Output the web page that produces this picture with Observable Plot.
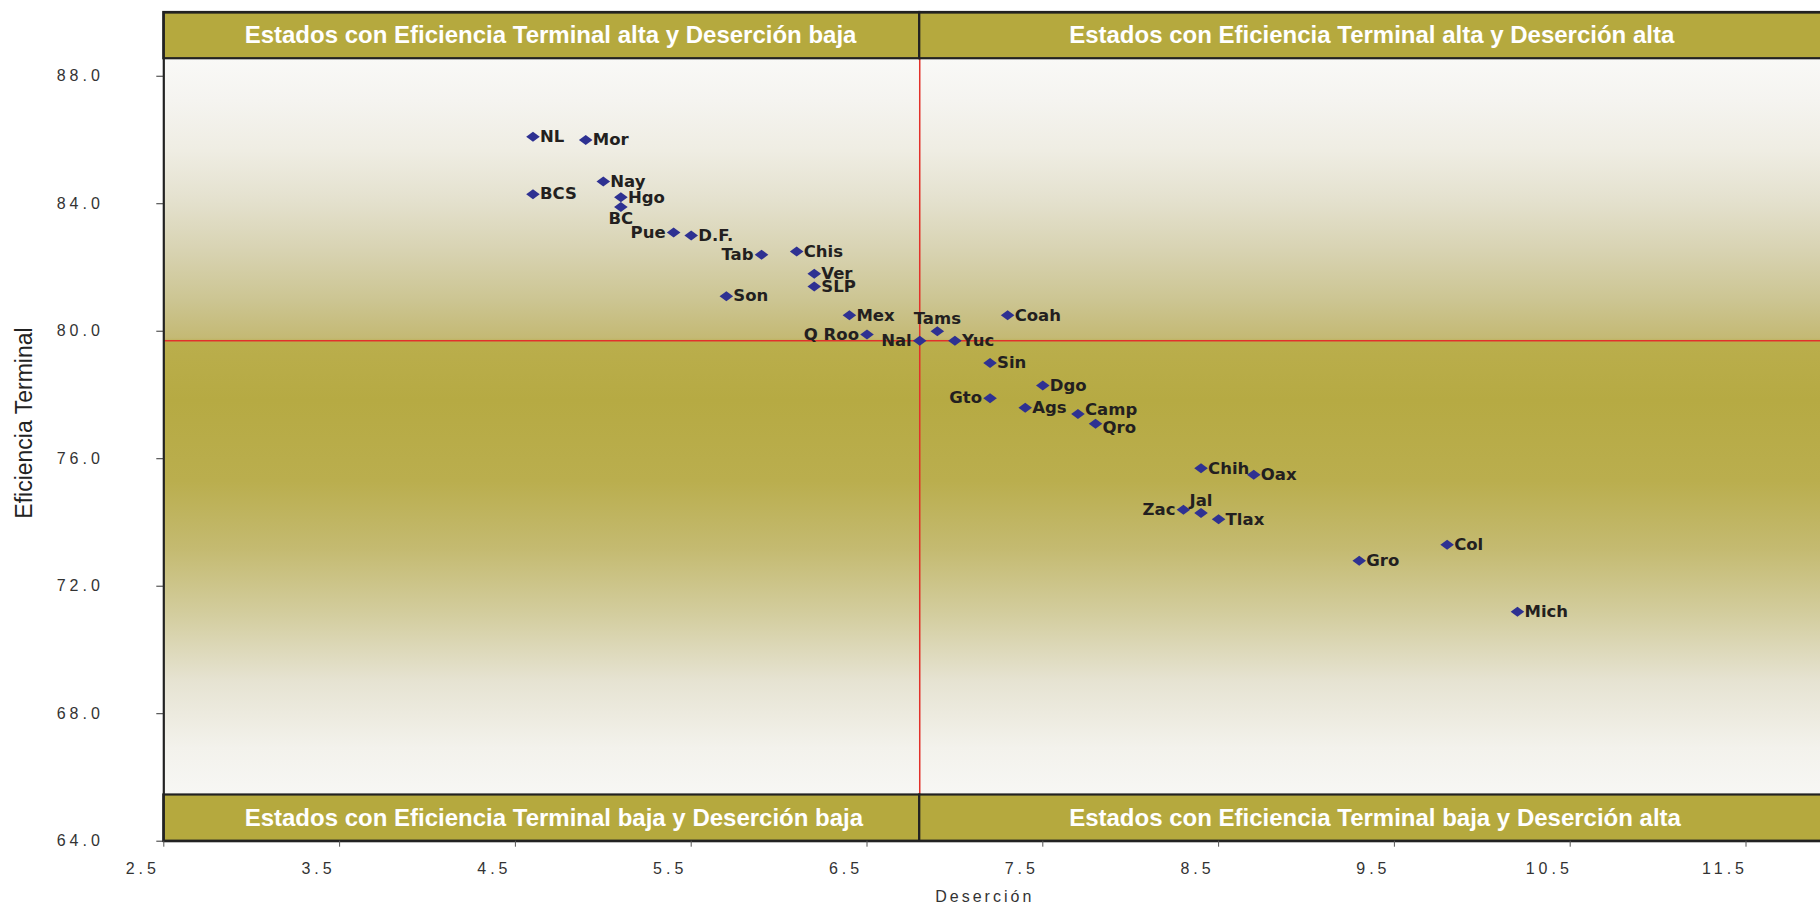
<!DOCTYPE html>
<html>
<head>
<meta charset="utf-8">
<script src="https://cdn.jsdelivr.net/npm/d3@7"></script>
<script src="https://cdn.jsdelivr.net/npm/@observablehq/plot@0.6"></script>
<style>
  html, body { margin: 0; padding: 0; background: #ffffff; overflow: hidden; width: 1820px; height: 909px; }
  #chart svg { display: block; max-width: none !important; }
</style>
</head>
<body>
<div id="chart"></div>
<script>
// ---------------- data ----------------
const states = ["NL","Mor","BCS","Nay","Hgo","BC","Pue","D.F.","Tab","Chis","Ver","SLP","Son","Mex","Q Roo","Tams","Nal","Yuc","Coah","Sin","Dgo","Gto","Ags","Camp","Qro","Chih","Oax","Zac","Jal","Tlax","Gro","Col","Mich"];
const desercion = [4.6,4.9,4.6,5.0,5.1,5.1,5.4,5.5,5.9,6.1,6.2,6.2,5.7,6.4,6.5,6.9,6.8,7.0,7.3,7.2,7.5,7.2,7.4,7.7,7.8,8.4,8.7,8.3,8.4,8.5,9.3,9.8,10.2];
const eficiencia = [86.1,86.0,84.3,84.7,84.2,83.9,83.1,83.0,82.4,82.5,81.8,81.4,81.1,80.5,79.9,80.0,79.7,79.7,80.5,79.0,78.3,77.9,77.6,77.4,77.1,75.7,75.5,74.4,74.3,74.1,72.8,73.3,71.2];
const xTicks = [2.5,3.5,4.5,5.5,6.5,7.5,8.5,9.5,10.5,11.5,12.5];
const yTicks = [64,68,72,76,80,84,88];
const quadrantTitles = [
  "Estados con Eficiencia Terminal alta y Deserción baja",
  "Estados con Eficiencia Terminal alta y Deserción alta",
  "Estados con Eficiencia Terminal baja y Deserción baja",
  "Estados con Eficiencia Terminal baja y Deserción alta"
];
const xTitle = "Deserción";
const yTitle = "Eficiencia Terminal";
const nationalName = "Nal";

// ---------------- layout / style (not data) ----------------
const xDomain = [2.5, 12.5];
const yDomain = [64, 90];
const bandDepth = 1.45;               // height of the quadrant title bands, in y units
const titleStartOffset = [0.46, 0.85]; // left / right title start, from band start (x units)
const xTitleAt = 7.17;
const yTitleAt = 77.12;
const labelPlacement = {
  "Pue":"left","Tab":"left","Q Roo":"left","Nal":"left","Gto":"left","Zac":"left",
  "Tams":"above","Jal":"above","BC":"below","Camp":"rightUp","Qro":"rightDown"
};
const olive = "#B5A93E";
const markerColor = "#2E3192";
const redLine = "#E2312A";
const labelFont = "'DejaVu Sans', Verdana, sans-serif";
const axisFont = "'Liberation Sans', Arial, sans-serif";

// ---------------- derived tables ----------------
const points = states.map((s, i) => ({name: s, x: desercion[i], y: eficiencia[i], place: labelPlacement[s] || "right"}));
const nal = points.find(d => d.name === nationalName);
const innerTop = yDomain[1] - bandDepth, innerBottom = yDomain[0] + bandDepth;
const background = [{x1: xDomain[0], x2: xDomain[1], y1: innerBottom, y2: innerTop}];
const bands = [
  {x1: xDomain[0], x2: nal.x, y1: innerTop, y2: yDomain[1], title: quadrantTitles[0], tx: xDomain[0] + titleStartOffset[0], ty: (innerTop + yDomain[1]) / 2},
  {x1: nal.x, x2: xDomain[1], y1: innerTop, y2: yDomain[1], title: quadrantTitles[1], tx: nal.x + titleStartOffset[1], ty: (innerTop + yDomain[1]) / 2},
  {x1: xDomain[0], x2: nal.x, y1: yDomain[0], y2: innerBottom, title: quadrantTitles[2], tx: xDomain[0] + titleStartOffset[0], ty: (yDomain[0] + innerBottom) / 2},
  {x1: nal.x, x2: xDomain[1], y1: yDomain[0], y2: innerBottom, title: quadrantTitles[3], tx: nal.x + titleStartOffset[1], ty: (yDomain[0] + innerBottom) / 2}
];

const wideDiamond = {
  draw(ctx) {
    const w = 6.8, h = 5.0;
    ctx.moveTo(0, -h); ctx.lineTo(w, 0); ctx.lineTo(0, h); ctx.lineTo(-w, 0); ctx.closePath();
  }
};

const labelStyle = {x: "x", y: "y", text: "name", fontFamily: labelFont, fontWeight: "bold", fontSize: 16.5, fill: "#231F20"};
const byPlace = p => points.filter(d => d.place === p);

const svg = Plot.plot({
  width: 1925,
  height: 909,
  marginLeft: 163.3,
  marginRight: 3.7,
  marginTop: 12,
  marginBottom: 68.3,
  x: {domain: xDomain},
  y: {domain: yDomain},
  style: {background: "#ffffff", maxWidth: "none", overflow: "visible"},
  marks: [
    Plot.rect(background, {x1: "x1", x2: "x2", y1: "y1", y2: "y2", fill: "url(#bgGrad)"}),
    Plot.ruleY([nal], {y: "y", x1: xDomain[0], x2: xDomain[1], stroke: redLine, strokeWidth: 1.5}),
    Plot.ruleX([nal], {x: "x", y1: innerBottom, y2: innerTop, stroke: redLine, strokeWidth: 1.5}),
    Plot.rect(bands, {x1: "x1", x2: "x2", y1: "y1", y2: "y2", fill: olive, stroke: "#222", strokeWidth: 2.2}),
    Plot.text(bands, {x: "tx", y: "ty", text: "title", textAnchor: "start", fill: "#ffffff", fontWeight: "bold", fontSize: 24, fontFamily: axisFont}),
    Plot.frame({stroke: "#222", strokeWidth: 2.2}),
    Plot.dot(points, {x: "x", y: "y", symbol: wideDiamond, r: 5, fill: markerColor, stroke: "none"}),
    Plot.text(byPlace("right"), {...labelStyle, textAnchor: "start", dx: 7}),
    Plot.text(byPlace("rightUp"), {...labelStyle, textAnchor: "start", dx: 7, dy: -4}),
    Plot.text(byPlace("rightDown"), {...labelStyle, textAnchor: "start", dx: 7, dy: 4}),
    Plot.text(byPlace("left"), {...labelStyle, textAnchor: "end", dx: -8}),
    Plot.text(byPlace("above"), {...labelStyle, textAnchor: "middle", dy: -12.5}),
    Plot.text(byPlace("below"), {...labelStyle, textAnchor: "middle", dy: 12}),
    Plot.axisY(yTicks, {anchor: "left", tickSize: 7, tickPadding: 53, tickFormat: d => d.toFixed(1), fontSize: 16, fontFamily: axisFont, color: "#333", label: null}),
    Plot.axisX(xTicks, {anchor: "bottom", tickSize: 6, tickFormat: () => "", color: "#555", label: null}),
    Plot.axisX(xTicks, {anchor: "bottom", tickSize: 0, tickPadding: 21, dx: -21, tickFormat: d => d.toFixed(1), fontSize: 16, fontFamily: axisFont, color: "#333", label: null}),
    Plot.text([xTitle], {x: xTitleAt, frameAnchor: "bottom", textAnchor: "middle", dy: 61, text: d => d, fontSize: 16, fontFamily: axisFont, fill: "#333"}),
    Plot.text([yTitle], {y: yTitleAt, frameAnchor: "left", textAnchor: "middle", dx: -139, rotate: -90, text: d => d, fontSize: 23, fontFamily: axisFont, fill: "#222"})
  ]
});

// background gradient (white -> olive -> white)
const gradStops = [
  [0.000, "#F9F9F7"], [0.057, "#F5F4F0"], [0.125, "#EFEDE3"], [0.193, "#E4E1CE"],
  [0.261, "#D8D3B2"], [0.329, "#CCC592"], [0.380, "#C4B974"], [0.386, "#BAAE4C"],
  [0.465, "#B6AA43"], [0.574, "#BAAE4E"], [0.665, "#C4BA70"], [0.755, "#D3CD9E"],
  [0.846, "#E6E3D2"], [0.937, "#F3F2EC"], [1.000, "#F7F7F4"]
];
const defs = d3.select(svg).insert("defs", ":first-child");
const grad = defs.append("linearGradient").attr("id", "bgGrad").attr("x1", 0).attr("y1", 0).attr("x2", 0).attr("y2", 1);
gradStops.forEach(([o, c]) => grad.append("stop").attr("offset", o).attr("stop-color", c));

// letter-spaced axis texts as in the original
d3.select(svg).selectAll('g[aria-label="y-axis tick label"] text, g[aria-label="x-axis tick label"] text').attr("letter-spacing", 4);
d3.select(svg).selectAll("text").filter(function() { return this.textContent === xTitle; }).attr("letter-spacing", 3);

svg.style.maxWidth = "none";
document.getElementById("chart").appendChild(svg);
</script>
</body>
</html>
